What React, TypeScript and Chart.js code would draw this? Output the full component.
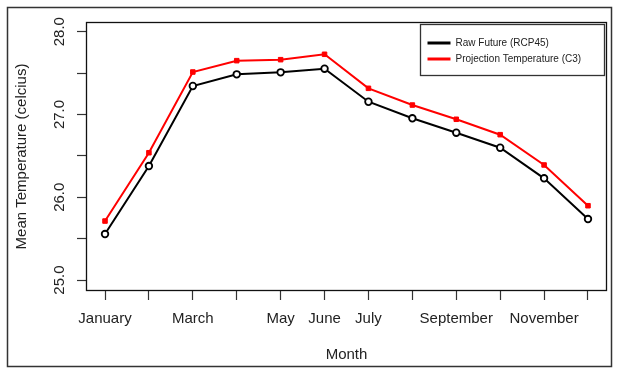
import React, { useEffect, useRef } from 'react';
import { Chart, registerables } from 'chart.js';

Chart.register(...registerables);

const months = ['January', 'February', 'March', 'April', 'May', 'June', 'July', 'August', 'September', 'October', 'November', 'December'];
const monthNumbers = [1, 2, 3, 4, 5, 6, 7, 8, 9, 10, 11, 12];
const xTickLabels = ['January', '', 'March', '', 'May', 'June', 'July', '', 'September', '', 'November', ''];
const rawFuture = [25.556, 26.377, 27.344, 27.485, 27.509, 27.553, 27.154, 26.954, 26.78, 26.598, 26.229, 25.737];
const projection = [25.713, 26.538, 27.513, 27.65, 27.662, 27.727, 27.316, 27.114, 26.942, 26.756, 26.39, 25.898];
const yTickValues = [25, 25.5, 26, 26.5, 27, 27.5, 28];
const yTickLabels = ['25.0', '', '26.0', '', '27.0', '', '28.0'];
const seriesNames = ['Raw Future (RCP45)', 'Projection Temperature (C3)'];
const seriesColors = ['#000000', '#ff0000'];

const FONT = '"Liberation Sans", Arial, sans-serif';

const framePlugin = {
  id: 'frame',
  beforeDraw(chart: any) {
    const { ctx, width, height } = chart;
    ctx.save();
    ctx.fillStyle = '#ffffff';
    ctx.fillRect(0, 0, width, height);
    ctx.restore();
  },
  afterDraw(chart: any) {
    const { ctx, chartArea: a } = chart;
    ctx.save();
    // outer frame
    ctx.strokeStyle = '#333333';
    ctx.lineWidth = 1.5;
    ctx.strokeRect(7.5, 7.5, 604, 359);
    // plot box
    ctx.strokeStyle = '#111111';
    ctx.lineWidth = 1.3;
    const l = Math.round(a.left) + 0.5;
    const t = Math.round(a.top) + 0.5;
    const r = Math.round(a.right) - 0.5;
    const b = Math.round(a.bottom) - 0.5;
    ctx.strokeRect(l, t, r - l, b - t);

    // legend
    const bx = Math.round(a.right) - 187 + 0.5;
    const by = Math.round(a.top) + 2 + 0.5;
    const bw = 184;
    const bh = 51;
    ctx.fillStyle = '#ffffff';
    ctx.fillRect(bx, by, bw, bh);
    ctx.strokeStyle = '#333333';
    ctx.lineWidth = 1.3;
    ctx.strokeRect(bx, by, bw, bh);
    const rows = [by + 18.5, by + 34.5];
    chart.data.datasets.forEach((ds: any, i: number) => {
      const y = rows[i];
      ctx.strokeStyle = ds.borderColor;
      ctx.lineWidth = 3;
      ctx.beginPath();
      ctx.moveTo(bx + 7, y);
      ctx.lineTo(bx + 30, y);
      ctx.stroke();
      ctx.fillStyle = '#222222';
      ctx.font = '10px ' + FONT;
      ctx.textAlign = 'left';
      ctx.textBaseline = 'middle';
      ctx.fillText(ds.label, bx + 35, y);
    });
    ctx.restore();
  },
};

export default function App() {
  const canvasRef = useRef<HTMLCanvasElement | null>(null);

  useEffect(() => {
    const canvas = canvasRef.current;
    if (!canvas) return;
    const chart = new Chart(canvas, {
      type: 'line',
      data: {
        datasets: [
          {
            label: seriesNames[0],
            data: monthNumbers.map((m, i) => ({ x: m, y: rawFuture[i] })),
            borderColor: seriesColors[0],
            backgroundColor: seriesColors[0],
            borderWidth: 2,
            pointStyle: 'circle',
            pointRadius: 3.3,
            pointBorderWidth: 1.8,
            pointBackgroundColor: '#ffffff',
            pointBorderColor: seriesColors[0],
            tension: 0,
          },
          {
            label: seriesNames[1],
            data: monthNumbers.map((m, i) => ({ x: m, y: projection[i] })),
            borderColor: seriesColors[1],
            backgroundColor: seriesColors[1],
            borderWidth: 2,
            pointStyle: 'rect',
            pointRadius: 3.2,
            pointBorderWidth: 1,
            pointBackgroundColor: seriesColors[1],
            pointBorderColor: seriesColors[1],
            tension: 0,
          },
        ],
      },
      options: {
        animation: false,
        responsive: false,
        devicePixelRatio: 1,
        layout: { padding: { top: 22, right: 10, bottom: 0, left: 0 } },
        plugins: {
          legend: { display: false },
          tooltip: { enabled: false },
        },
        scales: {
          x: {
            type: 'linear',
            min: 0.567,
            max: 12.433,
            afterBuildTicks: (scale: any) => {
              scale.ticks = monthNumbers.map((v) => ({ value: v }));
            },
            afterFit: (scale: any) => {
              scale.height = 77;
            },
            grid: {
              drawOnChartArea: false,
              drawTicks: true,
              tickLength: 9,
              tickColor: '#333333',
              tickWidth: 1.2,
            },
            border: { display: false },
            ticks: {
              autoSkip: false,
              minRotation: 0,
              maxRotation: 0,
              padding: 10,
              color: '#222222',
              font: { family: FONT, size: 15 },
              callback: (_v: any, i: number) => xTickLabels[i],
            },
            title: {
              display: true,
              text: 'Month',
              color: '#222222',
              font: { family: FONT, size: 15 },
              padding: { top: 0, bottom: 4 },
            },
          },
          y: {
            type: 'linear',
            min: 24.868,
            max: 28.117,
            afterBuildTicks: (scale: any) => {
              scale.ticks = yTickValues.map((v) => ({ value: v }));
            },
            afterFit: (scale: any) => {
              scale.width = 86;
            },
            grid: {
              drawOnChartArea: false,
              drawTicks: true,
              tickLength: 9,
              tickColor: '#333333',
              tickWidth: 1.2,
            },
            border: { display: false },
            ticks: {
              minRotation: 90,
              maxRotation: 90,
              crossAlign: 'center',
              padding: 3,
              color: '#222222',
              font: { family: FONT, size: 15 },
              callback: (_v: any, i: number) => yTickLabels[i],
            },
            title: {
              display: true,
              text: 'Mean Temperature (celcius)',
              color: '#222222',
              font: { family: FONT, size: 15 },
              padding: { top: 13, bottom: 0 },
            },
          },
        },
      },
      plugins: [framePlugin],
    } as any);
    return () => chart.destroy();
  }, []);

  return (
    <div style={{ position: 'fixed', left: 0, top: 0, width: 617, height: 368 }}>
      <canvas ref={canvasRef} width={617} height={368} style={{ display: 'block' }} />
    </div>
  );
}
